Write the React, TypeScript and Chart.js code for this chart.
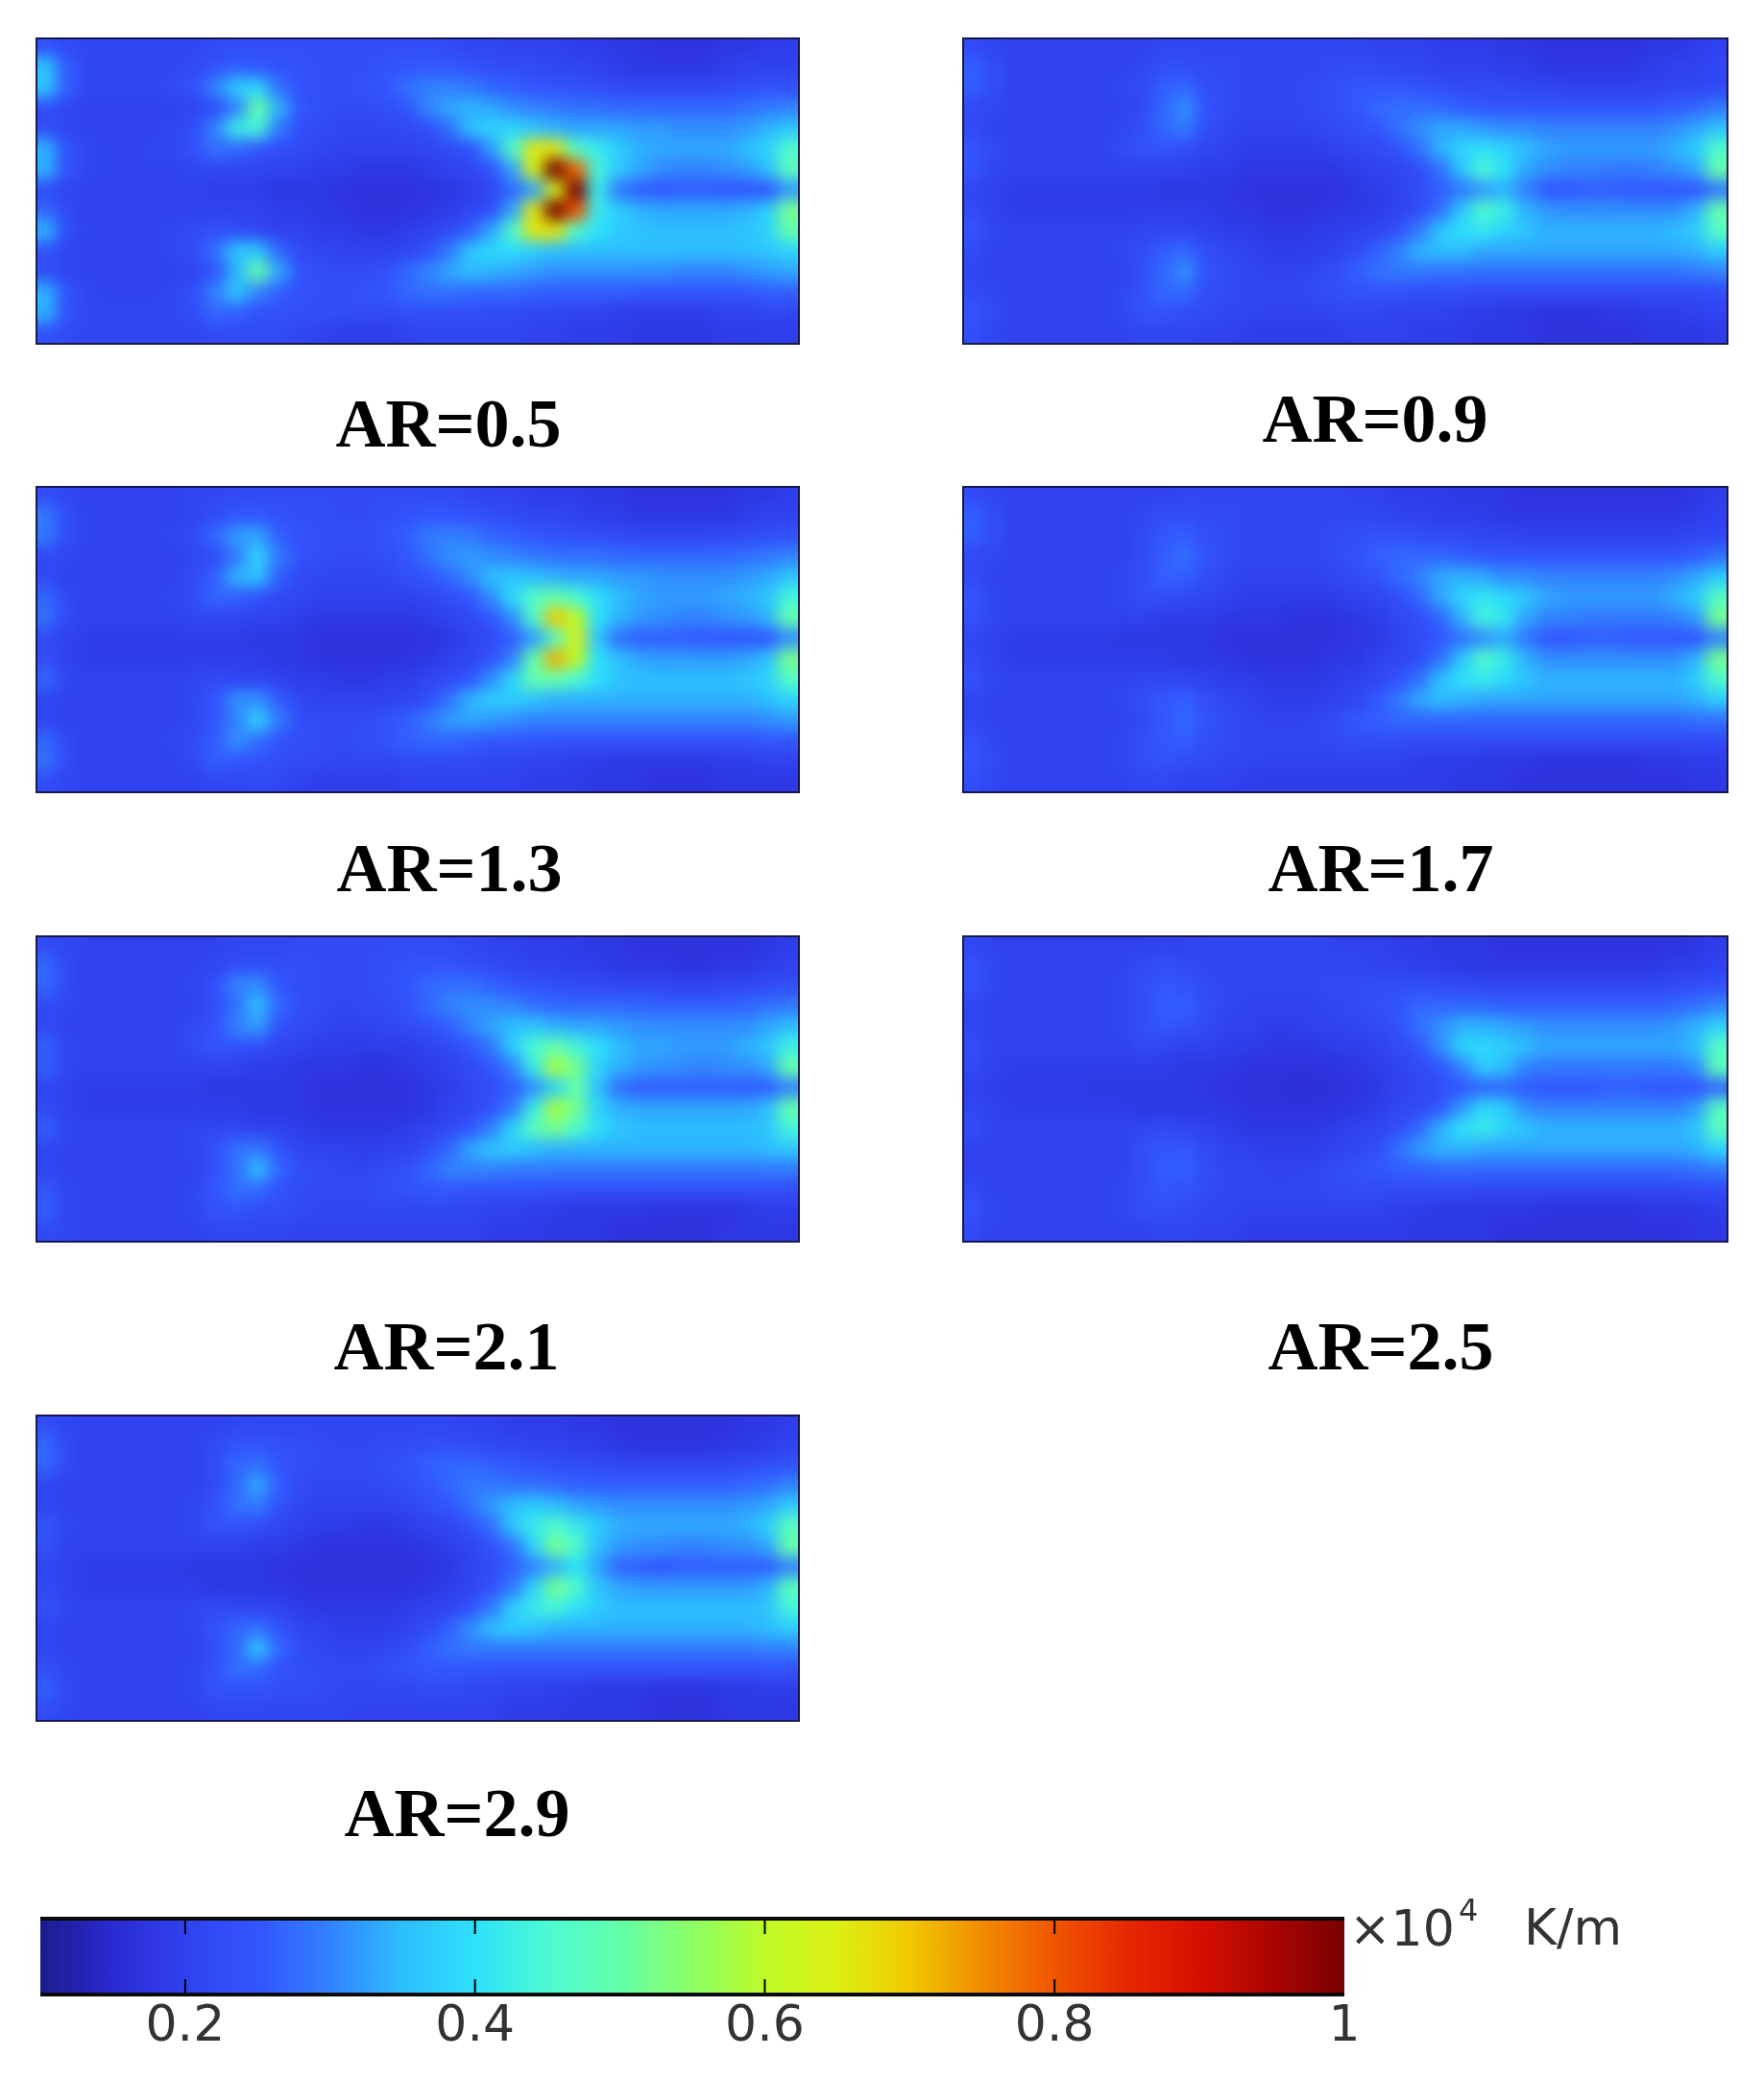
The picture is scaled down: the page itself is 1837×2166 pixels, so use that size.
import React, { useEffect, useRef } from "react";
import { Chart, registerables } from "chart.js";

Chart.register(...registerables);

// Temperature gradient, in hundredths of 10^4 K/m. 15 rows x 36 columns per panel.
const ar05 = [
  [24,22,21,21,21,21,21,21,22,23,23,23,23,23,23,23,23,23,23,22,21,21,20,20,20,19,19,18,18,17,17,17,18,18,19,19],
  [36,26,21,21,21,21,21,22,24,26,25,24,24,23,23,23,24,25,25,25,24,23,22,22,21,21,20,19,18,18,18,18,19,20,20,20],
  [36,26,21,21,21,21,22,24,30,37,38,28,24,23,23,24,25,28,30,30,29,27,26,25,24,24,23,22,21,21,21,21,22,23,24,24],
  [23,21,20,20,20,20,20,21,23,30,50,34,25,23,22,22,23,25,30,33,34,33,31,30,29,28,28,27,27,27,27,27,27,28,29,30],
  [23,21,20,20,20,20,21,23,30,42,44,29,23,22,21,21,21,22,23,28,35,38,38,36,34,33,33,33,32,32,31,31,31,32,34,36],
  [34,24,21,20,20,21,21,24,28,27,25,23,22,21,20,20,20,20,21,22,24,32,46,66,66,46,42,37,34,33,33,33,33,35,38,46],
  [34,24,21,20,20,20,20,21,21,21,21,20,20,19,19,18,18,18,19,20,21,24,33,64,100,78,44,37,33,31,30,30,31,32,35,48],
  [23,21,20,20,20,20,20,20,19,19,19,18,18,18,17,17,17,17,17,18,19,21,27,33,64,100,42,29,26,25,26,26,25,25,25,32],
  [27,22,20,20,20,20,20,20,20,20,20,19,19,18,18,17,17,17,18,19,21,23,33,66,100,80,42,37,34,33,33,33,33,34,37,52],
  [34,23,20,20,20,20,21,22,24,23,21,20,20,19,19,18,18,19,20,22,26,33,46,66,66,46,40,37,36,35,35,35,35,36,38,50],
  [24,21,20,20,20,20,21,23,28,36,36,27,22,21,20,20,20,21,24,29,36,39,39,37,35,35,35,35,35,35,35,35,35,35,36,38],
  [23,21,20,20,20,20,20,21,25,34,50,33,24,23,22,22,24,27,30,33,35,34,33,32,31,31,31,31,31,31,30,30,30,31,32,33],
  [34,24,21,20,20,20,21,23,30,36,30,26,24,23,23,24,25,27,28,28,27,27,27,26,26,26,26,26,25,25,25,25,25,25,26,26],
  [34,24,21,21,21,21,21,23,27,26,24,24,23,23,23,22,22,23,23,23,23,22,22,21,21,20,20,19,19,19,19,19,20,20,21,21],
  [24,22,21,21,21,21,21,21,22,22,22,22,21,20,19,19,19,20,21,21,21,21,21,20,20,19,19,19,18,18,18,18,19,19,19,19],
];
const ar09 = [
  [22,21,20,20,20,20,20,20,20,21,21,21,21,21,21,21,21,21,21,20,20,20,19,19,19,18,18,17,17,17,17,17,18,18,19,20],
  [26,23,20,20,20,20,20,20,21,23,23,22,22,21,21,21,21,22,22,22,21,21,20,20,20,19,19,18,18,18,18,18,19,20,20,21],
  [26,23,20,20,20,20,20,21,22,26,27,23,22,21,21,21,22,23,25,25,25,24,23,22,22,22,21,21,20,20,20,20,20,21,21,22],
  [22,21,20,20,20,20,20,20,22,27,31,24,22,21,21,21,22,23,25,27,28,28,27,26,25,25,25,25,25,25,25,25,25,26,27,29],
  [22,20,20,20,20,20,20,21,23,27,29,23,21,20,20,20,21,22,23,25,28,31,33,33,32,31,31,30,30,30,30,30,30,31,33,36],
  [25,22,20,20,20,20,20,22,24,24,23,21,20,19,19,19,19,20,21,22,24,28,34,38,40,38,35,33,32,32,32,32,32,34,37,46],
  [25,21,20,20,20,20,20,20,20,20,20,19,19,18,18,18,18,18,19,20,21,23,28,36,45,40,33,31,30,30,29,29,30,31,33,50],
  [21,20,19,19,19,19,19,19,19,18,18,18,18,17,17,17,17,17,18,19,20,22,26,29,32,34,30,25,25,26,26,25,25,25,25,29],
  [22,20,19,19,19,19,19,19,19,19,19,19,18,18,17,17,17,18,18,19,20,23,28,36,46,42,34,32,31,31,31,31,31,31,34,50],
  [25,21,20,20,20,20,20,20,21,21,21,20,19,19,18,18,19,19,20,21,24,29,36,40,41,38,36,34,34,34,34,34,34,35,37,47],
  [22,20,20,20,20,20,20,21,23,26,27,23,21,20,19,19,19,20,22,26,30,34,35,35,33,33,33,33,33,33,33,33,33,33,34,37],
  [21,20,20,20,20,20,20,20,23,27,31,24,22,21,20,20,21,23,26,28,29,29,28,28,28,28,28,28,28,28,28,28,28,28,29,30],
  [22,21,20,20,20,20,20,21,24,27,27,23,22,21,21,21,22,23,24,24,24,23,23,23,22,22,22,22,22,22,22,22,22,22,22,23],
  [25,22,20,20,20,20,20,21,24,24,23,22,21,21,20,20,20,21,21,21,20,20,20,19,19,18,18,17,17,17,18,18,19,19,20,20],
  [23,21,20,20,20,20,20,20,21,21,21,20,20,19,19,19,19,19,20,20,20,19,19,19,18,18,18,17,17,17,17,17,18,18,18,19],
];
const ar13 = [
  [23,21,20,20,20,20,20,21,21,22,22,22,22,22,22,22,22,22,22,22,21,20,20,19,19,19,18,18,17,17,17,17,17,18,18,19],
  [29,23,20,20,20,20,20,21,23,25,25,24,23,23,22,22,23,24,25,25,24,23,22,21,21,20,19,19,18,18,18,18,18,19,20,20],
  [29,23,20,20,20,20,21,22,27,32,33,26,24,23,23,23,24,26,29,30,29,27,26,25,24,23,23,22,21,21,21,21,22,22,23,24],
  [22,21,20,20,20,20,20,21,23,29,38,29,24,23,22,22,23,25,28,31,32,31,30,29,28,28,28,27,27,27,27,27,27,28,29,30],
  [22,20,20,20,20,20,20,22,26,34,36,26,22,21,21,21,21,23,25,27,31,35,36,35,34,33,33,32,32,31,31,31,31,32,33,36],
  [27,22,20,20,20,20,21,23,27,26,24,22,21,20,20,20,20,20,21,23,25,31,39,47,50,45,40,35,33,32,32,32,33,34,36,44],
  [28,22,20,20,20,20,20,21,21,21,20,20,19,18,18,18,18,18,19,20,22,25,31,46,70,60,40,34,32,31,30,30,31,32,34,50],
  [22,20,19,19,19,19,19,19,19,19,18,18,18,17,17,17,17,17,17,18,20,22,26,32,46,64,36,28,26,26,26,25,25,25,25,31],
  [23,20,19,19,19,19,19,19,19,19,19,18,18,17,17,17,17,17,18,20,21,24,30,50,72,60,40,35,33,32,32,32,32,33,35,52],
  [27,21,20,20,20,20,20,21,22,21,21,20,19,19,18,18,19,19,21,22,25,31,38,50,50,45,40,36,35,35,35,35,35,36,38,47],
  [21,20,20,20,20,20,20,21,25,31,31,26,21,20,20,20,20,21,23,28,34,37,37,36,34,34,34,34,34,34,34,34,34,34,35,38],
  [21,20,20,20,20,20,20,21,25,30,38,29,23,22,22,22,24,26,29,32,33,32,31,30,30,30,30,30,30,30,30,30,30,30,31,32],
  [27,22,20,20,20,20,21,22,26,31,28,24,23,22,22,23,24,26,27,27,26,25,25,25,24,24,24,24,24,24,24,24,24,24,25,25],
  [28,22,20,20,20,20,20,22,26,25,24,23,22,22,21,21,21,22,22,22,22,21,21,20,20,19,19,18,18,18,18,18,19,19,20,20],
  [23,21,20,20,20,20,20,20,21,21,22,21,20,19,19,19,19,20,20,20,20,20,20,19,19,19,18,18,18,17,17,17,18,18,18,18],
];
const ar17 = [
  [22,21,20,20,20,20,20,20,20,20,21,21,21,21,21,21,21,21,20,20,19,19,19,18,18,18,17,17,17,17,17,17,17,17,18,19],
  [26,23,20,20,20,20,20,20,21,23,23,22,22,21,21,21,21,21,21,21,20,20,19,19,19,18,18,18,18,18,18,18,18,18,19,20],
  [26,23,20,20,20,20,20,20,22,25,26,23,22,21,21,21,21,22,23,24,24,23,22,22,21,21,20,20,20,20,20,20,20,20,21,21],
  [22,21,20,20,20,20,20,20,22,26,28,24,22,21,21,21,21,22,24,26,27,27,27,26,25,25,25,25,25,25,25,25,25,25,26,28],
  [22,20,20,20,20,20,20,21,23,26,26,23,21,20,20,20,20,21,22,24,27,30,33,34,33,31,31,30,30,30,30,30,30,31,33,37],
  [25,21,20,20,20,20,20,21,23,23,22,21,20,19,19,19,19,19,20,21,23,27,33,38,41,39,36,33,32,32,32,32,32,34,37,47],
  [24,21,20,20,20,20,20,20,20,19,19,19,18,18,18,17,17,17,18,19,21,23,27,34,44,41,33,30,30,29,29,29,29,30,32,52],
  [21,20,19,19,19,19,19,18,18,18,18,18,17,17,17,17,17,17,18,18,20,22,25,28,31,33,29,25,25,26,26,25,25,25,25,30],
  [22,20,19,19,19,19,19,19,19,19,18,18,18,17,17,17,17,18,18,20,21,23,28,36,46,42,34,31,31,31,31,31,31,31,34,52],
  [24,21,20,20,20,20,20,20,21,21,21,20,19,19,18,18,18,19,20,21,24,28,35,40,42,39,36,34,34,34,34,34,34,34,37,46],
  [21,20,20,20,20,20,20,21,23,25,26,23,21,20,19,19,19,20,21,25,29,33,35,34,33,33,33,33,33,33,33,33,33,33,34,37],
  [21,20,20,20,20,20,20,20,22,25,27,24,22,21,20,20,21,22,25,26,27,27,27,27,27,27,27,27,27,27,27,27,27,27,28,28],
  [24,21,20,20,20,20,20,21,23,25,26,23,22,21,21,21,21,22,23,23,23,22,22,22,22,22,22,22,22,22,22,22,22,22,22,22],
  [25,22,20,20,20,20,20,21,23,24,23,22,21,21,20,20,20,20,20,20,20,19,19,19,18,18,18,17,17,17,17,17,18,18,19,19],
  [23,21,20,20,20,20,20,20,21,21,20,20,20,19,19,19,19,19,19,19,19,19,19,18,18,18,17,17,17,17,17,17,17,17,18,18],
];
const ar21 = [
  [22,21,20,20,20,20,20,20,20,21,21,21,22,22,22,22,22,22,22,22,21,20,20,19,19,19,18,18,17,17,17,17,17,17,18,19],
  [27,22,20,20,20,20,20,20,21,23,23,23,23,22,22,22,23,24,24,24,23,22,21,20,20,19,19,18,18,18,17,17,18,18,19,20],
  [27,22,20,20,20,20,20,21,24,30,31,25,23,22,22,22,23,25,27,28,28,26,25,24,23,22,22,21,21,21,20,20,21,21,22,23],
  [22,21,20,20,20,20,20,20,23,28,35,27,23,22,21,22,22,24,27,30,31,31,30,28,27,27,27,27,27,26,26,26,26,27,28,29],
  [22,20,20,20,20,20,20,22,24,30,32,24,22,21,20,20,21,22,24,26,30,33,35,36,34,33,33,32,31,31,31,31,31,31,33,35],
  [26,21,20,20,20,20,20,22,25,24,23,21,20,19,19,19,19,19,20,22,25,29,37,45,50,44,40,35,33,33,32,32,32,34,36,43],
  [26,21,20,20,20,20,20,20,20,20,19,19,18,18,18,17,17,18,19,20,22,25,30,42,58,52,38,34,32,31,31,30,31,31,33,50],
  [21,20,19,19,19,19,19,19,18,18,18,18,18,17,17,17,17,17,18,19,21,23,26,31,38,50,36,28,26,26,26,26,26,26,26,30],
  [22,20,19,19,19,19,19,19,19,19,18,18,18,17,17,17,17,17,18,20,21,24,29,42,58,52,38,34,33,33,33,33,33,33,35,50],
  [26,21,20,20,20,20,20,21,21,21,20,20,19,18,18,18,18,19,20,22,25,30,38,48,52,46,40,36,35,35,35,35,35,35,36,44],
  [21,20,20,20,20,20,20,21,24,28,29,25,21,20,20,19,20,20,23,27,33,36,37,35,34,34,34,34,34,34,34,34,34,34,35,36],
  [21,20,20,20,20,20,20,20,24,28,35,27,23,22,21,21,22,24,27,30,30,30,29,29,29,29,29,29,29,29,29,29,29,29,29,29],
  [25,21,20,20,20,20,20,21,25,28,27,24,22,22,22,22,23,24,25,25,24,24,24,24,23,23,23,23,23,23,23,23,23,23,23,23],
  [26,21,20,20,20,20,20,21,24,24,23,23,22,21,21,21,21,21,21,21,21,20,20,19,19,18,18,18,18,17,17,17,17,18,19,19],
  [22,21,20,20,20,20,20,20,21,21,21,21,20,20,20,20,20,20,20,20,20,19,19,19,18,18,18,17,17,17,17,17,18,18,18,18],
];
const ar25 = [
  [21,20,20,20,20,20,20,20,20,20,20,21,21,21,21,21,21,20,20,20,19,19,18,18,18,17,17,17,17,17,17,17,17,17,18,19],
  [24,21,20,20,20,20,20,20,22,23,22,21,21,21,21,21,21,21,21,20,20,19,19,18,18,18,18,18,18,18,18,18,18,19,19,20],
  [24,21,20,20,20,20,20,21,23,25,24,22,21,21,21,21,21,22,22,23,23,23,22,22,21,21,21,21,21,21,21,21,21,22,23,24],
  [21,20,20,20,20,20,20,21,23,26,26,23,21,20,20,20,20,21,22,23,25,27,27,27,27,26,26,26,26,26,26,26,26,27,28,30],
  [21,20,20,20,20,20,20,21,23,25,24,22,20,20,19,19,20,20,21,22,24,28,31,34,34,33,32,31,31,31,31,31,31,32,34,38],
  [23,20,20,20,20,20,20,20,22,21,20,20,19,19,18,18,18,19,19,20,22,25,31,38,39,37,35,33,33,33,33,33,33,33,35,47],
  [22,20,19,19,19,19,19,19,19,19,18,18,18,17,17,17,17,17,18,19,20,22,25,30,37,35,30,29,29,29,29,29,29,29,31,48],
  [20,19,19,19,19,19,18,18,18,18,18,18,17,17,17,16,16,17,17,18,20,21,23,25,27,27,26,25,25,25,26,26,25,25,25,27],
  [21,20,19,19,19,19,19,19,18,18,18,18,18,17,17,17,17,17,18,19,21,22,25,32,39,37,31,30,30,30,30,30,30,30,32,47],
  [23,20,20,20,20,20,20,20,21,22,21,20,19,18,18,18,18,19,20,21,23,27,34,40,42,38,36,34,34,34,34,34,34,34,36,48],
  [20,20,20,20,20,20,20,20,23,25,25,22,20,20,19,19,19,20,21,23,28,32,34,34,33,33,33,33,33,33,33,33,33,33,34,38],
  [20,20,20,20,20,20,20,20,23,26,26,23,21,21,20,20,21,22,24,25,26,26,27,27,27,27,27,27,27,27,27,27,27,27,28,29],
  [22,20,20,20,20,20,20,21,23,25,24,22,21,21,21,21,21,22,22,22,22,22,22,22,21,21,21,21,21,21,21,21,21,21,22,22],
  [24,21,20,20,20,20,20,21,23,23,22,21,21,20,20,20,20,20,20,20,19,19,18,18,18,18,18,17,17,17,17,17,18,18,18,19],
  [22,20,20,20,20,20,20,20,20,21,21,20,20,19,19,19,19,19,19,19,19,18,18,18,18,17,17,17,17,17,17,17,17,17,18,18],
];
const ar29 = [
  [23,21,20,20,20,20,20,20,20,21,21,21,21,21,21,21,21,21,21,21,20,20,19,19,19,18,18,17,17,17,17,17,17,18,18,19],
  [27,22,20,20,20,20,20,20,22,24,24,23,23,22,21,21,22,22,23,23,22,21,21,20,20,19,19,18,17,17,17,17,18,18,19,20],
  [27,22,20,20,20,20,20,20,23,27,28,25,23,22,22,22,23,24,26,27,27,26,25,24,23,23,22,21,21,21,21,21,21,22,23,24],
  [21,20,20,20,20,20,20,20,22,27,33,26,22,21,21,21,22,23,25,27,29,29,28,28,27,26,26,26,26,26,26,26,26,27,28,30],
  [21,20,20,20,20,20,20,21,24,28,29,24,21,20,20,20,20,21,23,25,28,32,35,37,35,33,32,31,31,31,31,31,31,32,33,37],
  [25,21,20,20,20,20,20,21,24,24,23,21,20,19,19,18,18,19,20,21,24,28,36,42,46,42,37,34,33,33,33,33,33,34,37,48],
  [24,20,20,20,20,20,20,20,20,20,19,19,18,17,17,17,17,17,18,19,21,24,28,38,52,46,35,32,31,31,30,30,31,31,33,50],
  [21,20,19,19,19,19,19,18,18,18,18,17,17,17,17,17,17,17,17,18,20,22,26,30,34,40,33,27,26,25,26,26,26,26,26,30],
  [22,20,19,19,19,19,19,19,18,18,18,18,17,17,17,17,17,17,18,19,21,24,29,38,52,46,36,33,32,32,32,32,32,32,34,48],
  [24,21,20,20,20,20,20,21,22,21,21,20,19,18,18,18,18,19,20,21,24,29,37,42,44,40,37,35,35,35,35,35,35,35,36,44],
  [21,20,20,20,20,20,20,21,24,27,28,25,21,20,19,19,19,20,22,26,31,35,37,36,34,34,34,34,34,34,34,34,34,34,35,37],
  [21,20,20,20,20,20,20,20,23,27,36,27,22,21,20,20,21,23,26,28,29,29,29,29,29,29,29,29,29,29,29,29,29,29,30,30],
  [24,21,20,20,20,20,20,21,24,28,27,24,23,22,22,22,23,24,25,25,25,24,24,24,24,24,24,24,24,24,24,24,24,24,24,24],
  [26,22,20,20,20,20,20,21,24,24,24,23,23,22,21,21,21,21,22,22,21,21,20,20,19,19,18,18,18,17,17,17,18,18,19,19],
  [23,21,20,20,20,20,20,20,21,21,21,21,21,21,21,20,20,20,20,20,20,20,19,19,19,18,18,18,18,17,17,17,18,18,18,18],
];

const panelLabels = ["AR=0.5", "AR=0.9", "AR=1.3", "AR=1.7", "AR=2.1", "AR=2.5", "AR=2.9"];
const panelGrids = [ar05, ar09, ar13, ar17, ar21, ar25, ar29];

const colorbarTicks = [0.2, 0.4, 0.6, 0.8, 1];
const colorbarTickLabels = ["0.2", "0.4", "0.6", "0.8", "1"];
const colorbarRange = [0.1, 1];
const stopValues = [0.1, 0.15, 0.2, 0.25, 0.3, 0.35, 0.4, 0.45, 0.5, 0.55, 0.6, 0.65, 0.7, 0.75, 0.8, 0.85, 0.9, 0.95, 1];
const stopColors = [
  [28, 28, 140], [42, 42, 210], [48, 66, 240], [50, 85, 255], [50, 130, 255], [45, 190, 255],
  [45, 225, 250], [75, 250, 210], [100, 255, 170], [140, 255, 100], [190, 250, 40], [220, 240, 20],
  [240, 200, 0], [240, 140, 0], [240, 85, 0], [230, 40, 0], [215, 15, 0], [170, 5, 0], [120, 0, 0],
];

const panelBoxes = [
  { x: 37, y: 39, w: 796, lx: 467, ly: 441 },
  { x: 1002, y: 39, w: 798, lx: 1432, ly: 436 },
  { x: 37, y: 506, w: 796, lx: 468, ly: 904 },
  { x: 1002, y: 506, w: 798, lx: 1438, ly: 904 },
  { x: 37, y: 974, w: 796, lx: 465, ly: 1402 },
  { x: 1002, y: 974, w: 798, lx: 1438, ly: 1402 },
  { x: 37, y: 1473, w: 796, lx: 476, ly: 1888 },
];
const PANEL_H = 320;
const BLUR = 8;

function colorFor(value: number) {
  const v = Math.min(1, Math.max(0.1, value));
  let i = 0;
  while (i < stopValues.length - 2 && v > stopValues[i + 1]) i++;
  const t = (v - stopValues[i]) / (stopValues[i + 1] - stopValues[i]);
  const c = stopColors[i].map((a, k) => Math.round(a + (stopColors[i + 1][k] - a) * t));
  return `rgb(${c[0]},${c[1]},${c[2]})`;
}

const smoothPlugin = {
  id: "smooth",
  afterDatasetsDraw(chart: any) {
    const { ctx, canvas } = chart;
    const w = canvas.width;
    const h = canvas.height;
    const m = 30;
    const tmp = document.createElement("canvas");
    tmp.width = w + 2 * m;
    tmp.height = h + 2 * m;
    const t = tmp.getContext("2d")!;
    t.drawImage(canvas, 0, 0, w, h, m, m, w, h);
    t.drawImage(canvas, 0, 0, 2, h, 0, m, m, h);
    t.drawImage(canvas, w - 2, 0, 2, h, w + m, m, m, h);
    t.drawImage(tmp, 0, m, w + 2 * m, 2, 0, 0, w + 2 * m, m);
    t.drawImage(tmp, 0, h + m - 2, w + 2 * m, 2, 0, h + m, w + 2 * m, m);
    ctx.save();
    ctx.beginPath();
    ctx.rect(0, 0, w, h);
    ctx.clip();
    (ctx as any).filter = `blur(${BLUR}px)`;
    ctx.drawImage(tmp, -m, -m);
    ctx.restore();
  },
  afterDraw(chart: any) {
    const { ctx, chartArea } = chart;
    ctx.save();
    ctx.strokeStyle = "rgba(22,22,70,0.95)";
    ctx.lineWidth = 2;
    ctx.strokeRect(chartArea.left + 1, chartArea.top + 1, chartArea.width - 2, chartArea.height - 2);
    ctx.restore();
  },
};

function Panel({ grid, box }: { grid: number[][]; box: { x: number; y: number; w: number } }) {
  const ref = useRef<HTMLCanvasElement>(null);
  useEffect(() => {
    const rows = grid.length;
    const cols = grid[0].length;
    const points: any[] = [];
    grid.forEach((row, r) => row.forEach((v, c) => points.push({ x: c + 0.5, y: r + 0.5, v: v / 100 })));
    const chart = new Chart(ref.current!, {
      type: "scatter",
      data: {
        datasets: [
          {
            data: points,
            pointStyle: "rect",
            pointRadius: 17,
            pointHoverRadius: 17,
            pointBorderWidth: 0,
            clip: false,
            backgroundColor: (c: any) => colorFor(c.raw ? c.raw.v : 0.2),
          } as any,
        ],
      },
      options: {
        animation: false,
        responsive: false,
        events: [],
        layout: { padding: 0, autoPadding: false },
        plugins: { legend: { display: false }, tooltip: { enabled: false } },
        scales: {
          x: { type: "linear", min: 0, max: cols, display: false },
          y: { type: "linear", min: 0, max: rows, reverse: true, display: false },
        },
      },
      plugins: [smoothPlugin],
    });
    return () => chart.destroy();
  }, [grid]);
  return (
    <canvas
      ref={ref}
      width={box.w}
      height={PANEL_H}
      style={{ position: "absolute", left: box.x, top: box.y, width: box.w, height: PANEL_H, display: "block" }}
    />
  );
}

const colorbarPlugin = {
  id: "colorbarFrame",
  afterDatasetsDraw(chart: any) {
    const { ctx, chartArea, scales } = chart;
    ctx.save();
    ctx.strokeStyle = "#000";
    ctx.lineWidth = 2;
    for (const t of colorbarTicks) {
      const x = scales.x.getPixelForValue(t);
      if (t >= 1) continue;
      ctx.beginPath();
      ctx.moveTo(x, chartArea.top);
      ctx.lineTo(x, chartArea.top + 16);
      ctx.moveTo(x, chartArea.bottom - 16);
      ctx.lineTo(x, chartArea.bottom);
      ctx.stroke();
    }
    ctx.lineWidth = 4;
    ctx.strokeStyle = "#0a0a0a";
    ctx.beginPath();
    ctx.moveTo(chartArea.left, chartArea.top);
    ctx.lineTo(chartArea.right, chartArea.top);
    ctx.moveTo(chartArea.left, chartArea.bottom);
    ctx.lineTo(chartArea.right, chartArea.bottom);
    ctx.stroke();
    ctx.restore();
  },
};

function Colorbar() {
  const ref = useRef<HTMLCanvasElement>(null);
  useEffect(() => {
    const chart = new Chart(ref.current!, {
      type: "bar",
      data: {
        labels: ["K/m"],
        datasets: [
          {
            data: [[colorbarRange[0], colorbarRange[1]]],
            categoryPercentage: 1,
            barPercentage: 1,
            borderWidth: 0,
            backgroundColor: (c: any) => {
              const area = c.chart.chartArea;
              if (!area) return "#3040ec";
              const g = c.chart.ctx.createLinearGradient(area.left, 0, area.right, 0);
              stopValues.forEach((v, i) => {
                const [r, gg, b] = stopColors[i];
                g.addColorStop((v - colorbarRange[0]) / (colorbarRange[1] - colorbarRange[0]), `rgb(${r},${gg},${b})`);
              });
              return g;
            },
          } as any,
        ],
      },
      options: {
        indexAxis: "y",
        animation: false,
        responsive: false,
        events: [],
        layout: { padding: { left: 42, right: 60, top: 18, bottom: 0 } },
        plugins: { legend: { display: false }, tooltip: { enabled: false } },
        scales: {
          x: {
            type: "linear",
            min: colorbarRange[0],
            max: colorbarRange[1],
            afterBuildTicks: (s: any) => {
              s.ticks = colorbarTicks.map((value) => ({ value }));
            },
            afterFit: (s: any) => {
              s.height = 73;
            },
            grid: { display: false, drawTicks: false },
            border: { display: false },
            ticks: {
              autoSkip: false,
              maxRotation: 0,
              padding: 3,
              color: "#333",
              font: { family: "'DejaVu Sans'", size: 52 },
              callback: (_v: any, i: number) => colorbarTickLabels[i],
            },
          },
          y: { display: false },
        },
      },
      plugins: [colorbarPlugin],
    });
    return () => chart.destroy();
  }, []);
  return (
    <canvas
      ref={ref}
      width={1460}
      height={170}
      style={{ position: "absolute", left: 0, top: 1980, width: 1460, height: 170, display: "block" }}
    />
  );
}

export default function App() {
  const textBase: React.CSSProperties = { position: "absolute", whiteSpace: "nowrap", lineHeight: 1 };
  return (
    <div style={{ position: "absolute", left: 0, top: 0, width: 1837, height: 2166, background: "#fff", overflow: "hidden" }}>
      {panelGrids.map((g, i) => (
        <Panel key={panelLabels[i]} grid={g} box={panelBoxes[i]} />
      ))}
      {panelLabels.map((label, i) => (
        <div
          key={label}
          style={{
            ...textBase,
            left: panelBoxes[i].lx,
            top: panelBoxes[i].ly,
            transform: "translate(-50%,-50%)",
            fontFamily: "'Liberation Serif'",
            fontWeight: 700,
            fontSize: 72,
            color: "#000",
          }}
        >
          {label}
        </div>
      ))}
      <Colorbar />
      <div style={{ ...textBase, left: 1405, top: 1982, fontFamily: "'DejaVu Sans'", fontSize: 52, color: "#333" }}>×10</div>
      <div style={{ ...textBase, left: 1519, top: 1973, fontFamily: "'DejaVu Sans'", fontSize: 32, color: "#333" }}>4</div>
      <div style={{ ...textBase, left: 1587, top: 1981, fontFamily: "'DejaVu Sans'", fontSize: 52, color: "#333" }}>K/m</div>
    </div>
  );
}
